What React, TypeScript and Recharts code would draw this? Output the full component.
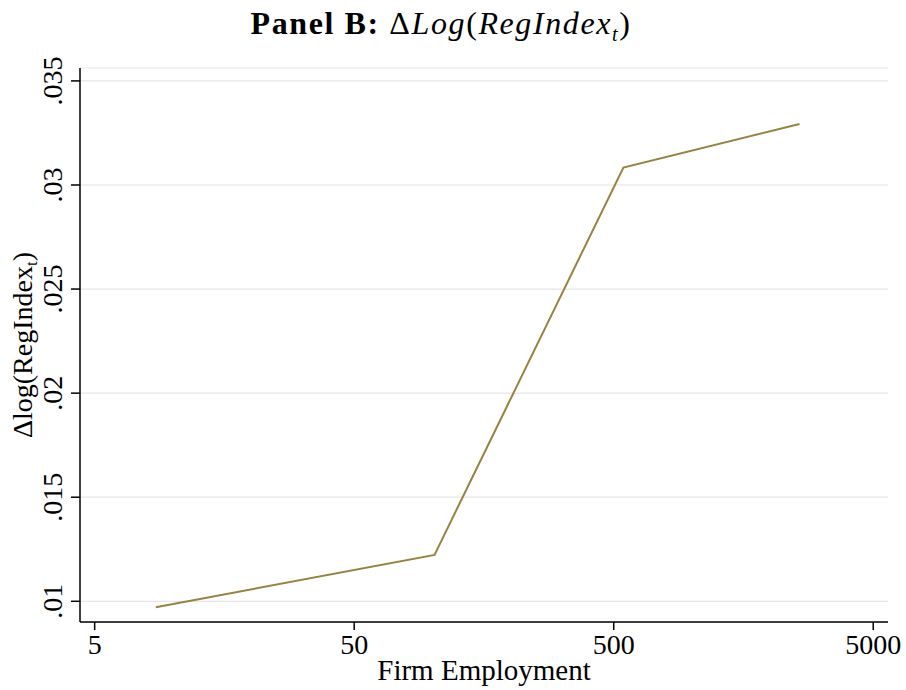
import React from 'react'
import { LineChart, Line, XAxis, YAxis, CartesianGrid } from 'recharts'

// Firm size (employees) and change in log regulation index
const employment = [8.6, 102, 545, 2600]
const dLogRegIndex = [0.00971, 0.01223, 0.03084, 0.03293]

const xTicks = [5, 50, 500, 5000]
const yTicks = [0.01, 0.015, 0.02, 0.025, 0.03, 0.035]

const data = employment.map((x, i) => ({ x, y: dLogRegIndex[i] }))

const FONT = '"Liberation Serif", "DejaVu Serif", serif'
const LINE_COLOR = '#978243'

function fmtY(v: number): string {
  return String(Number(v.toFixed(3))).replace(/^0/, '')
}

function YTick(props: any) {
  const { y, payload } = props
  const x = 62
  return (
    <text
      x={x}
      y={y}
      transform={`rotate(-90, ${x}, ${y})`}
      textAnchor="middle"
      fontFamily={FONT}
      fontSize={28}
      fill="#000"
    >
      {fmtY(payload.value)}
    </text>
  )
}

function YLabel() {
  const x = 32
  const y = 345
  return (
    <text
      x={x}
      y={y}
      transform={`rotate(-90, ${x}, ${y})`}
      textAnchor="middle"
      fontFamily={FONT}
      fontSize={28}
      fill="#000"
    >
      Δlog(RegIndex
      <tspan fontSize={17} dy={5}>t</tspan>
      <tspan dy={-5}>)</tspan>
    </text>
  )
}

export default function App() {
  return (
    <div style={{ position: 'absolute', left: 0, top: 0, width: 906, height: 690, background: '#fff' }}>
      <div
        style={{
          position: 'absolute',
          left: 0,
          width: 906,
          top: 5,
          textAlign: 'center',
          fontFamily: FONT,
          fontSize: 32,
          letterSpacing: 1.6,
          color: '#000',
          paddingRight: 24,
          boxSizing: 'border-box',
        }}
      >
        <b>Panel B:</b> Δ<i>Log</i>(<i>RegIndex</i>
        <sub style={{ fontSize: 20, fontStyle: 'italic' }}>t</sub>)
      </div>
      <LineChart
        width={906}
        height={690}
        data={data}
        margin={{ top: 68, right: 18, bottom: 0, left: 0 }}
      >
        <CartesianGrid vertical={false} stroke="#e6e6e6" strokeWidth={1.2} />
        <XAxis
          dataKey="x"
          type="number"
          scale="log"
          domain={[4.39, 5700]}
          ticks={xTicks}
          allowDataOverflow
          height={68}
          tickSize={8}
          tickMargin={4}
          stroke="#000"
          strokeWidth={1.5}
          tick={{ fontFamily: FONT, fontSize: 28, fill: '#000' }}
          label={{
            value: 'Firm Employment',
            position: 'insideBottom',
            offset: 10,
            style: { fontFamily: FONT, fontSize: 29, fill: '#000' },
          }}
        />
        <YAxis
          type="number"
          domain={[0.009005, 0.03562]}
          ticks={yTicks}
          allowDataOverflow
          width={80}
          tickSize={9}
          stroke="#000"
          strokeWidth={1.5}
          tick={<YTick />}
          label={<YLabel />}
        />
        <Line
          type="linear"
          dataKey="y"
          stroke={LINE_COLOR}
          strokeWidth={2}
          dot={false}
          isAnimationActive={false}
        />
      </LineChart>
    </div>
  )
}
